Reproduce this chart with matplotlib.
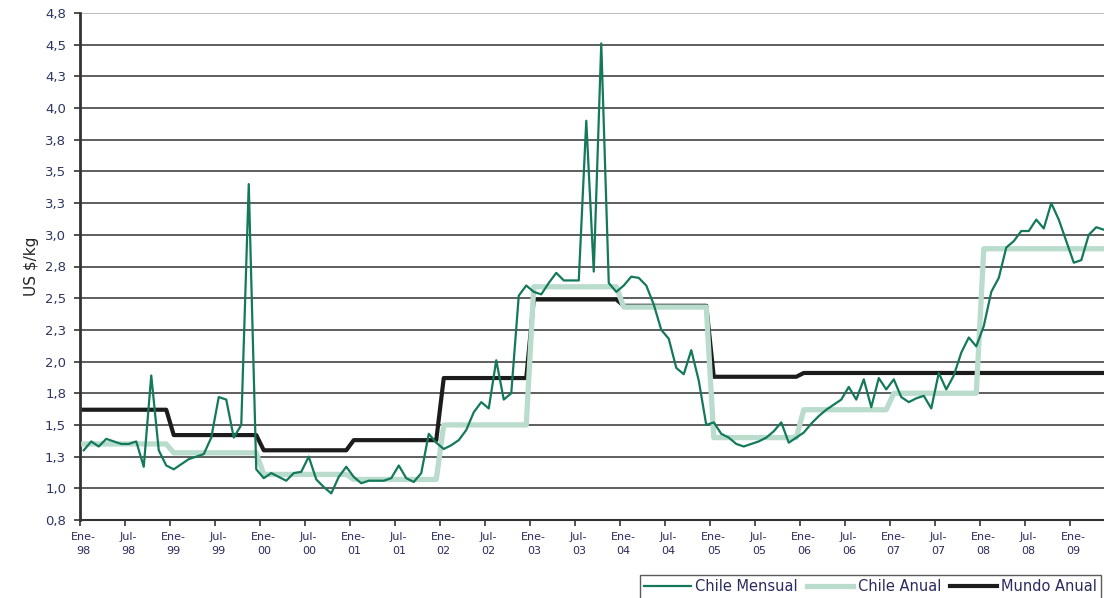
import numpy as np
import matplotlib
matplotlib.use('Agg')
import matplotlib.pyplot as plt

# monthly prices, Ene-98 .. May-09
chile_mensual = [1.30, 1.37, 1.33, 1.39, 1.37, 1.35, 1.35, 1.37, 1.17, 1.89, 1.30, 1.18,
                 1.15, 1.19, 1.23, 1.25, 1.27, 1.40, 1.72, 1.70, 1.40, 1.50, 3.40, 1.15,
                 1.08, 1.12, 1.09, 1.06, 1.12, 1.13, 1.25, 1.07, 1.01, 0.96, 1.09, 1.17,
                 1.09, 1.04, 1.06, 1.06, 1.06, 1.08, 1.18, 1.08, 1.05, 1.12, 1.43, 1.36,
                 1.31, 1.34, 1.38, 1.46, 1.60, 1.68, 1.63, 2.01, 1.70, 1.75, 2.52, 2.60,
                 2.55, 2.53, 2.62, 2.70, 2.64, 2.64, 2.64, 3.90, 2.71, 4.51, 2.62, 2.55,
                 2.60, 2.67, 2.66, 2.60, 2.45, 2.25, 2.18, 1.95, 1.90, 2.09, 1.85, 1.50,
                 1.52, 1.43, 1.40, 1.35, 1.33, 1.35, 1.37, 1.40, 1.45, 1.52, 1.36, 1.40,
                 1.44, 1.51, 1.57, 1.62, 1.66, 1.70, 1.80, 1.70, 1.86, 1.64, 1.87, 1.78,
                 1.86, 1.72, 1.68, 1.71, 1.73, 1.63, 1.91, 1.78, 1.89, 2.07, 2.19, 2.12,
                 2.28, 2.55, 2.66, 2.90, 2.95, 3.03, 3.03, 3.12, 3.05, 3.25, 3.12, 2.95,
                 2.78, 2.80, 3.00, 3.06, 3.04]

# yearly averages 1998..2009
years = [1998, 1999, 2000, 2001, 2002, 2003, 2004, 2005, 2006, 2007, 2008, 2009]
months_in_year = [12, 12, 12, 12, 12, 12, 12, 12, 12, 12, 12, 5]
chile_anual = [1.35, 1.28, 1.11, 1.07, 1.50, 2.59, 2.43, 1.40, 1.62, 1.75, 2.89, 2.89]
mundo_anual = [1.62, 1.42, 1.30, 1.38, 1.87, 2.49, 2.44, 1.88, 1.91, 1.91, 1.91, 1.91]

x_labels = ['Ene-\n98', 'Jul-\n98', 'Ene-\n99', 'Jul-\n99', 'Ene-\n00', 'Jul-\n00',
            'Ene-\n01', 'Jul-\n01', 'Ene-\n02', 'Jul-\n02', 'Ene-\n03', 'Jul-\n03',
            'Ene-\n04', 'Jul-\n04', 'Ene-\n05', 'Jul-\n05', 'Ene-\n06', 'Jul-\n06',
            'Ene-\n07', 'Jul-\n07', 'Ene-\n08', 'Jul-\n08', 'Ene-\n09']
y_ticks = [0.75, 1.0, 1.25, 1.5, 1.75, 2.0, 2.25, 2.5, 2.75, 3.0, 3.25, 3.5,
           3.75, 4.0, 4.25, 4.5, 4.75]
y_labels = ['0,8', '1,0', '1,3', '1,5', '1,8', '2,0', '2,3', '2,5', '2,8', '3,0',
            '3,3', '3,5', '3,8', '4,0', '4,3', '4,5', '4,8']

m = np.arange(len(chile_mensual))
chile_anual_m = np.repeat(chile_anual, months_in_year)
mundo_anual_m = np.repeat(mundo_anual, months_in_year)

fig = plt.figure(figsize=(11.04, 5.98), dpi=100)
ax = fig.add_axes([80/1104, 1-520/598, 1-80/1104, (520-13)/598])

ax.plot(m, mundo_anual_m, color='#1c1c1c', lw=3.0, label='Mundo Anual', zorder=3,
        solid_joinstyle='round')
ax.plot(m, chile_anual_m, color='#b9dccd', lw=3.8, label='Chile Anual', zorder=4,
        solid_joinstyle='round')
ax.plot(m, chile_mensual, color='#13795a', lw=1.6, label='Chile Mensual', zorder=5,
        solid_joinstyle='round')

ax.set_xlim(-0.5, 136.03)
ax.set_ylim(0.75, 4.75)

ax.set_yticks(y_ticks)
ax.set_yticklabels(y_labels, fontsize=9.5, color='#2d3560')
ax.tick_params(axis='y', length=4, width=1.2, color='#333333', pad=6)
ax.yaxis.grid(True, color='#333333', lw=1.1)
ax.get_ygridlines()[-1].set_color('#aaaaaa')
ax.set_axisbelow(True)

# ticks on month boundaries, labels on the first month of each half year
ax.set_xticks(np.arange(len(x_labels)) * 6 - 0.5)
ax.set_xticklabels([])
ax.set_xticks(np.arange(len(x_labels)) * 6, minor=True)
ax.set_xticklabels(x_labels, minor=True, fontsize=8, color='#2b2b5e', linespacing=1.5)
ax.tick_params(axis='x', which='major', length=4, width=1.2, color='#333333')
ax.tick_params(axis='x', which='minor', length=0, pad=9)

for s in ['top', 'right']:
    ax.spines[s].set_visible(False)
ax.spines['left'].set_linewidth(2)
ax.spines['left'].set_color('#333333')
ax.spines['bottom'].set_linewidth(1.5)
ax.spines['bottom'].set_color('#333333')

ax.set_ylabel('US $/kg', fontsize=11, color='#222222', labelpad=4)

handles, labels = ax.get_legend_handles_labels()
leg = fig.legend(handles[::-1], labels[::-1], loc='upper left', ncol=3,
                 bbox_to_anchor=(640/1104, 1-575/598), fontsize=10.5,
                 frameon=True, fancybox=False, edgecolor='#333333',
                 handlelength=3.2, handletextpad=0.3, columnspacing=0.6,
                 borderpad=0.3, borderaxespad=0)
leg.get_frame().set_linewidth(1.0)
for t in leg.get_texts():
    t.set_color('#2b2b5e')

plt.savefig('out.png', dpi=100)
